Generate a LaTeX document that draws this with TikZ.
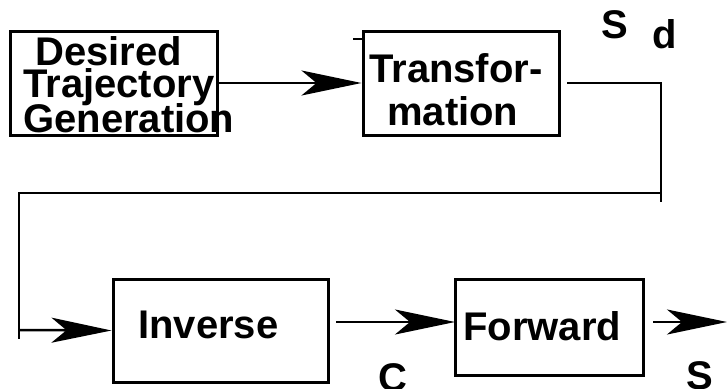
\documentclass[tikz,border=0pt]{standalone}
\usepackage{fontspec}
\setmainfont{Liberation Sans}
\usetikzlibrary{arrows.meta}
\begin{document}
\begin{tikzpicture}[x=1pt,y=-1pt,
  box/.style={draw,line width=3pt,inner sep=0pt},
  lbl/.style={inner sep=0pt,font=\fontsize{40}{40}\selectfont\bfseries,anchor=base west},
  conn/.style={line width=2.5pt},
  arr/.style={conn,-{Stealth[length=60pt,width=25pt,inset=15pt]}}]
\useasboundingbox (0,0) rectangle (727,388);
% boxes
\node[box,minimum width=207pt,minimum height=104pt] (dtg) at (113.5,83) {};
\node[box,minimum width=196pt,minimum height=104pt] (trans) at (461,83) {};
\node[box,minimum width=215pt,minimum height=103pt] (inv) at (220.5,330.5) {};
\node[box,minimum width=188pt,minimum height=96pt] (fwd) at (549,327) {};
% texts
\node[lbl] (t1) at (35,65) {Desired};
\node[lbl] (t2) at (23,97) {Trajectory};
\node[lbl] (t3) at (23,132) {Generation};
\node[lbl] (t4) at (369,82) {Transfor-};
\node[lbl] (t5) at (387,125) {mation};
\node[lbl] (t6) at (138,338) {Inverse};
\node[lbl] (t7) at (463,340) {Forward};
\node[lbl] (sd1) at (601,38) {S};
\node[lbl] (sd2) at (652,48) {d};
\node[lbl] (cl) at (378,391) {C};
\node[lbl] (sl) at (686,389) {S};
% coordinates
\coordinate (a1) at (567,83);
\coordinate (a2) at (661,202);
\coordinate (b1) at (661,193);
\coordinate (b2) at (19,339);
\coordinate (b3) at (19,330);
\coordinate (c1) at (336,322);
\coordinate (c2) at (455,322);
\coordinate (d1) at (653,322);
\coordinate (d2) at (727,322);
\coordinate (k1) at (353,39);
\coordinate (k2) at (362,39);
% connectors
\draw[arr] (dtg.east) -- (trans.west);
\draw[conn] (a1) -| (a2);
\draw[conn] (b1) -| (b2);
\draw[arr] (b3) -- (inv.west);
\draw[arr] (c1) -- (c2);
\draw[arr] (d1) -- (d2);
\draw[line width=2pt] (k1) -- (k2);
\end{tikzpicture}
\end{document}
